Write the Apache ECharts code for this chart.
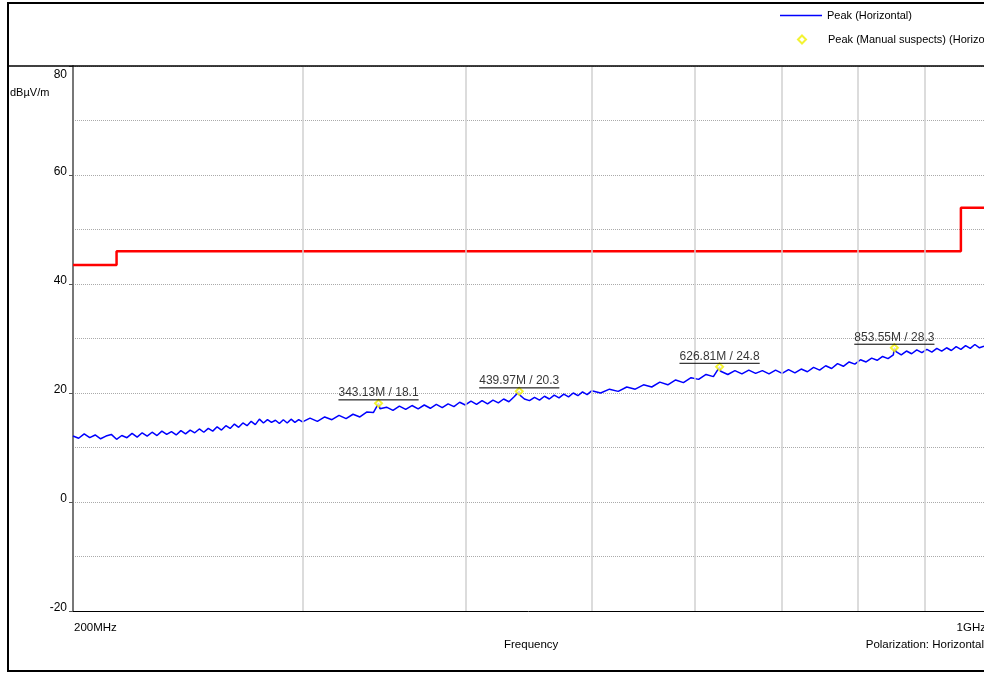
<!DOCTYPE html>
<html>
<head>
<meta charset="utf-8">
<script src="https://cdn.jsdelivr.net/npm/echarts@6/dist/echarts.min.js"></script>
<style>html,body{margin:0;padding:0;background:#fff;}#c{width:984px;height:673px;}</style>
</head>
<body>
<div id="c"></div>
<script>
// ---- data ----
const freqMHz = [
200,202,204,206,208,210,212,214,216,218,220,222,224,226,228,230,232,234,236,238,240,242,244,246,248,250,
252,254,256,258,260,262,264,266,268,270,272,274,276,278,280,282,284,286,288,290,292,294,296,298,300,
304,308,312,316,320,324,328,332,336,340,343.13,344,348,352,356,360,364,368,372,376,380,384,388,392,396,400,
404,408,412,416,420,424,428,432,436,439.97,440,444,448,452,456,460,464,468,472,476,480,484,488,492,496,500,
508,516,524,532,540,548,556,564,572,580,588,596,604,612,620,626.81,628,636,644,652,660,668,676,684,692,700,
708,716,724,732,740,748,756,764,772,780,788,796,804,812,820,828,836,844,852,853.55,856,864,872,880,888,896,
904,912,920,928,936,944,952,960,968,976,984,992,1000];
const peakDb = [
12.1,11.7,12.5,11.8,12.3,11.6,12.1,12.4,11.5,12.2,11.8,12.6,11.9,12.7,12.1,12.8,12.2,13.0,12.4,12.9,12.3,13.1,12.5,13.2,12.7,13.4,
12.8,13.5,13.0,13.8,13.2,14.0,13.5,14.3,13.7,14.5,14.0,14.8,14.2,15.2,14.5,15.1,14.6,15.0,14.4,15.1,14.5,15.2,14.6,15.1,14.7,
15.4,14.8,15.6,15.1,15.9,15.3,16.1,15.6,16.5,16.4,18.1,17.1,17.4,16.8,17.6,17.0,17.7,17.1,17.8,17.2,17.9,17.3,18.0,17.5,18.3,17.8,
18.5,17.9,18.6,18.0,18.7,18.2,18.9,18.4,19.3,20.3,19.7,18.9,18.6,19.2,18.7,19.4,18.9,19.6,19.1,19.8,19.3,20.0,19.5,20.2,19.7,20.4,
20.0,20.7,20.3,21.1,20.7,21.5,21.1,22.0,21.5,22.4,21.9,22.8,22.5,23.4,23.0,24.8,24.0,23.4,24.1,23.5,24.2,23.6,24.1,23.5,24.2,23.6,
24.3,23.7,24.4,23.9,24.7,24.2,25.0,24.5,25.4,24.9,25.7,25.3,26.1,25.7,26.4,26.0,26.7,26.3,27.0,28.3,27.6,27.0,27.7,27.2,27.9,27.4,
28.0,27.5,28.2,27.7,28.3,27.8,28.5,28.0,28.7,28.2,28.9,28.3,28.6];
const limitFreq = [200, 216, 216, 960, 960, 1000];
const limitDb = [43.5, 43.5, 46, 46, 54, 54];
const suspectFreq = [343.13, 439.97, 626.81, 853.55];
const suspectDb = [18.1, 20.3, 24.8, 28.3];
const gridFreq = [300, 400, 500, 600, 700, 800, 900];
const yMin = -20, yMax = 80, yStep = 20;
const xEndLabels = ['200MHz', '1GHz'];
const seriesNames = ['Peak (Horizontal)', 'Peak (Manual suspects) (Horizontal'];

// ---- chart ----
const FONT = 'Arial';
const chart = echarts.init(document.getElementById('c'), null, {renderer: 'canvas'});
const traceData = freqMHz.map((f, i) => [f, peakDb[i]]);
const limitData = limitFreq.map((f, i) => [f, limitDb[i]]);
const suspectData = suspectFreq.map((f, i) => ({value: [f, suspectDb[i]], label: {formatter: '{t|' + f.toFixed(2) + 'M / ' + suspectDb[i].toFixed(1) + '}\n{hr|}'}}));

chart.setOption({
  animation: false,
  backgroundColor: '#fff',
  textStyle: {fontFamily: FONT},
  grid: {left: 73, right: -3, top: 66, bottom: 62, containLabel: false},
  legend: [
    {
      orient: 'vertical', left: 775, top: 5, itemWidth: 42, itemHeight: 1.5,
      textStyle: {fontFamily: FONT, fontSize: 11, color: '#000'},
      data: [{name: seriesNames[0], icon: 'rect', itemStyle: {color: '#0000ff'}}]
    },
    {
      orient: 'vertical', left: 792, top: 29, itemWidth: 8, itemHeight: 8,
      textStyle: {fontFamily: FONT, fontSize: 11, color: '#000', padding: [0, 0, 0, 17]},
      data: [{name: seriesNames[1], icon: 'emptyDiamond'}]
    }
  ],
  xAxis: {
    type: 'log', logBase: 10, min: 200, max: 1000,
    axisLine: {show: true, onZero: false, lineStyle: {color: '#000', width: 1}},
    axisTick: {show: false}, axisLabel: {show: false},
    splitLine: {show: false}, minorSplitLine: {show: false}
  },
  yAxis: {
    type: 'value', min: yMin, max: yMax, interval: yStep,
    axisLine: {show: true, lineStyle: {color: '#777', width: 2}},
    axisTick: {show: true, length: 4, inside: false, lineStyle: {color: '#555'}},
    axisLabel: {
      color: '#000', fontSize: 12, fontFamily: FONT, margin: 6,
      formatter: v => v === yMax ? '{a|' + v + '}' : '{b|' + v + '}',
      rich: {
        a: {fontSize: 12, fontFamily: FONT, color: '#000', padding: [18, 0, 0, 0]},
        b: {fontSize: 12, fontFamily: FONT, color: '#000', padding: [0, 0, 7, 0]}
      }
    },
    splitLine: {show: true, lineStyle: {color: '#aaa', type: [1, 1], width: 1}},
    minorTick: {show: true, splitNumber: 2, length: 0},
    minorSplitLine: {show: true, lineStyle: {color: '#aaa', type: [1, 1], width: 1}}
  },
  series: [
    {
      name: 'grid', type: 'line', data: [], z: 1, silent: true,
      markLine: {
        silent: true, symbol: 'none', animation: false,
        label: {show: false},
        lineStyle: {color: '#d0d0d0', type: 'solid', width: 1.5},
        data: gridFreq.map(f => ({xAxis: f}))
      }
    },
    {
      name: 'limit', type: 'line', data: limitData, z: 3, symbol: 'none',
      lineStyle: {color: '#ff0000', width: 2.5}, silent: true
    },
    {
      name: seriesNames[0], type: 'line', data: traceData, z: 4, symbol: 'none',
      lineStyle: {color: '#0000ff', width: 1.5}, itemStyle: {color: '#0000ff'}
    },
    {
      name: seriesNames[1], type: 'scatter', data: suspectData, z: 5,
      symbol: 'emptyDiamond', symbolSize: 7, symbolKeepAspect: true,
      itemStyle: {color: '#f0f000', borderColor: '#f0f000', borderWidth: 1.5},
      label: {
        show: true, position: 'top', distance: -1,
        rich: {
          t: {fontSize: 12, fontFamily: FONT, color: '#000', lineHeight: 14},
          hr: {width: '100%', align: 'left', height: 0, borderWidth: 0.8, borderColor: '#000'}
        }
      }
    }
  ],
  graphic: [
    {type: 'rect', shape: {x: 8, y: 3, width: 1000, height: 668}, style: {fill: 'none', stroke: '#000', lineWidth: 2}, silent: true, z: 10},
    {type: 'line', shape: {x1: 8, y1: 66, x2: 984, y2: 66}, style: {stroke: '#000', lineWidth: 1.5}, silent: true, z: 10},
    {type: 'text', left: 10, top: 87, style: {text: 'dBµV/m', font: '11px Arial', fill: '#000'}},
    {type: 'text', left: 74, top: 622, style: {text: xEndLabels[0], font: '11.5px Arial', fill: '#000'}},
    {type: 'text', right: -2, top: 622, style: {text: xEndLabels[1], font: '11.5px Arial', fill: '#000'}},
    {type: 'text', left: 504, top: 639, style: {text: 'Frequency', font: '11.5px Arial', fill: '#000'}},
    {type: 'text', right: 0, top: 639, style: {text: 'Polarization: Horizontal', font: '11.5px Arial', fill: '#000'}}
  ]
});
</script>
</body>
</html>
